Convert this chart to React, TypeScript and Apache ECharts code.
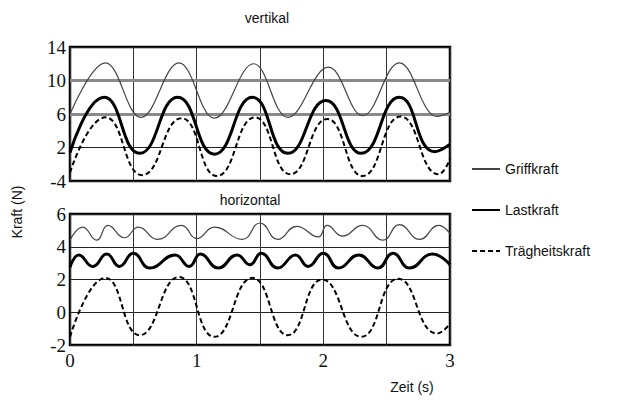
import React, { useEffect, useRef } from "react";
import * as echarts from "echarts";

const seriesNames = ["Griffkraft", "Lastkraft", "Trägheitskraft"];

// vertikal panel: [Zeit (s), Kraft (N)] at the turning points
const topGriff = [[0,6.0],[0.28,12.1],[0.56,5.6],[0.86,12.1],[1.14,5.5],[1.45,12.0],[1.72,5.6],[2.04,11.6],[2.31,5.8],[2.60,12.1],[2.90,5.7],[3.0,6.2]];
const topLast = [[0,1.4],[0.27,8.0],[0.55,1.3],[0.85,8.0],[1.14,1.2],[1.44,8.0],[1.72,1.3],[2.02,7.6],[2.30,1.3],[2.60,8.0],[2.88,1.5],[3.0,2.4]];
const topTraeg = [[0,-1.0],[0.28,5.6],[0.57,-1.3],[0.88,5.5],[1.16,-1.4],[1.46,5.6],[1.74,-1.2],[2.03,5.4],[2.31,-1.4],[2.61,5.7],[2.91,-1.2],[3.0,0.6]];

// horizontal panel
const botGriff = [[0,4.4],[0.10,5.2],[0.21,4.4],[0.30,5.3],[0.43,4.55],[0.54,5.2],[0.69,4.45],[0.88,5.3],[1.0,4.5],[1.14,5.2],[1.36,4.45],[1.50,5.45],[1.64,4.45],[1.79,5.25],[1.96,4.6],[2.03,5.3],[2.15,4.65],[2.31,5.3],[2.47,4.4],[2.60,5.35],[2.76,4.45],[2.91,5.3],[3.0,4.8]];
const botLast = [[0,2.75],[0.07,3.5],[0.18,2.8],[0.29,3.55],[0.39,2.8],[0.50,3.6],[0.63,2.7],[0.83,3.5],[0.94,2.8],[1.03,3.55],[1.17,2.7],[1.32,3.5],[1.42,2.9],[1.51,3.6],[1.64,2.7],[1.78,3.5],[1.88,2.8],[2.0,3.6],[2.12,2.7],[2.28,3.5],[2.43,2.7],[2.55,3.6],[2.68,2.7],[2.86,3.55],[3.0,2.9]];
const botTraeg = [[0,-1.5],[0.28,2.1],[0.55,-1.4],[0.86,2.15],[1.14,-1.5],[1.44,2.1],[1.72,-1.4],[1.99,2.0],[2.30,-1.5],[2.59,2.05],[2.90,-1.3],[3.0,-0.7]];

// tick labels as printed
const topTickValues = [-2, 2, 6, 10, 14];
const topTickLabels = ["-4", "2", "6", "10", "14"];
const botTickValues = [-2, 0, 2, 4, 6];
const botTickLabels = ["-2", "0", "2", "4", "6"];
const xTickValues = [0, 1, 2, 3];
const xTickLabels = ["0", "1", "2", "3"];
const grayLines = [10, 6];

const SANS = "'Liberation Sans', Arial, sans-serif";
const SERIF = "'Liberation Serif', 'Times New Roman', serif";

export default function App() {
  const ref = useRef<HTMLDivElement>(null);
  useEffect(() => {
    if (!ref.current) return;
    const chart = echarts.init(ref.current, null, { renderer: "svg" });
    const xAxisBase = (showLabels: boolean, gi: number) => ({
      type: "value",
      gridIndex: gi,
      min: 0,
      max: 3,
      interval: 0.5,
      axisLine: { show: false },
      axisTick: { show: false },
      splitLine: { show: true, lineStyle: { color: "#333", width: 1 } },
      axisLabel: {
        show: showLabels,
        margin: 6,
        fontFamily: SERIF,
        fontSize: 19,
        color: "#111",
        formatter: (v: number) => {
          const i = xTickValues.indexOf(v);
          return i >= 0 ? xTickLabels[i] : "";
        },
      },
    });
    const yAxisBase = (gi: number, min: number, max: number, interval: number, vals: number[], labs: string[]) => ({
      type: "value",
      gridIndex: gi,
      min,
      max,
      interval,
      axisLine: { show: false },
      axisTick: { show: false },
      splitLine: { show: true, lineStyle: { color: "#222", width: 1 } },
      axisLabel: {
        margin: 4,
        fontFamily: SERIF,
        fontSize: 19,
        color: "#111",
        formatter: (v: number) => {
          const i = vals.indexOf(v);
          return i >= 0 ? labs[i] : "";
        },
      },
    });
    const mk = (name: string, data: number[][], gi: number, smooth: number, extra: any = {}) => {
      const style =
        name === "Griffkraft"
          ? { color: "#444", width: 1.2, type: "solid" }
          : name === "Lastkraft"
          ? { color: "#000", width: 3, type: "solid" }
          : { color: "#000", width: 2, type: [5, 3] };
      return {
        name,
        type: "line",
        xAxisIndex: gi,
        yAxisIndex: gi,
        data,
        smooth,
        symbol: "none",
        showSymbol: false,
        color: style.color,
        lineStyle: style,
        z: name === "Lastkraft" ? 4 : 3,
        ...extra,
      };
    };
    chart.setOption({
      animation: false,
      backgroundColor: "#fff",
      title: [
        { text: "vertikal", left: 262, top: 6, textAlign: "center", textStyle: { fontFamily: SANS, fontSize: 14, fontWeight: "normal", color: "#111" } },
        { text: "horizontal", left: 245, top: 188, textAlign: "center", textStyle: { fontFamily: SANS, fontSize: 14, fontWeight: "normal", color: "#111" } },
      ],
      legend: {
        data: seriesNames,
        orient: "vertical",
        left: 466,
        top: 157,
        itemWidth: 28,
        itemHeight: 14,
        itemGap: 27,
        itemStyle: { color: "transparent", borderColor: "transparent", borderWidth: 0, opacity: 0 },
        textStyle: { fontFamily: SANS, fontSize: 14, color: "#111" },
      },
      grid: [
        { left: 70, top: 47, width: 380, height: 134, show: true, borderColor: "#000", borderWidth: 2.5, backgroundColor: "transparent" },
        { left: 70, top: 214, width: 380, height: 131, show: true, borderColor: "#000", borderWidth: 2.5, backgroundColor: "transparent" },
      ],
      xAxis: [xAxisBase(false, 0), xAxisBase(true, 1)],
      yAxis: [
        yAxisBase(0, -2, 14, 4, topTickValues, topTickLabels),
        yAxisBase(1, -2, 6, 2, botTickValues, botTickLabels),
      ],
      series: [
        mk("Griffkraft", topGriff, 0, 0.4, {
          markLine: {
            silent: true,
            symbol: "none",
            label: { show: false },
            lineStyle: { color: "#8a8a8a", width: 3, type: "solid" },
            data: grayLines.map((v) => ({ yAxis: v })),
            z: 1,
          },
        }),
        mk("Lastkraft", topLast, 0, 0.5),
        mk("Trägheitskraft", topTraeg, 0, 0.5),
        mk("Griffkraft", botGriff, 1, 0.5),
        mk("Lastkraft", botLast, 1, 0.5),
        mk("Trägheitskraft", botTraeg, 1, 0.5),
      ],
      graphic: [
        {
          type: "text",
          x: 17,
          y: 212,
          rotation: Math.PI / 2,
          style: { text: "Kraft (N)", font: `14px ${SANS}`, fill: "#111", align: "center", verticalAlign: "middle" },
        },
        {
          type: "text",
          x: 412,
          y: 387,
          style: { text: "Zeit (s)", font: `14px ${SANS}`, fill: "#111", align: "center", verticalAlign: "middle" },
        },
      ],
    });
    return () => chart.dispose();
  }, []);
  return <div ref={ref} style={{ position: "fixed", left: 0, top: 0, width: 627, height: 402, background: "#fff" }} />;
}
